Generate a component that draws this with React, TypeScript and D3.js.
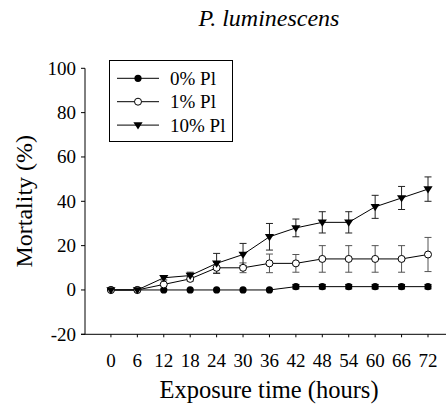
import React from "react";
import * as d3 from "d3";

const hours = [0, 6, 12, 18, 24, 30, 36, 42, 48, 54, 60, 66, 72];
const yTicks = [-20, 0, 20, 40, 60, 80, 100];

const pl0 = [0, 0, 0, 0, 0, 0, 0, 1.5, 1.5, 1.5, 1.5, 1.5, 1.5];
const pl0Err = [0, 0, 0, 0, 0, 0, 0, 1, 1, 1, 1, 1, 1];
const pl1 = [0, 0, 2.5, 5, 10, 10, 12, 12, 14, 14, 14, 14, 16];
const pl1Err = [0, 0, 0, 1, 2.4, 2.2, 4.2, 4, 6, 6, 6, 6, 7.7];
const pl10 = [0, 0, 5.5, 6.5, 12, 16, 24, 28, 30.5, 30.5, 37.5, 41.5, 45.5];
const pl10Err = [0, 0, 1, 1.5, 4.5, 5, 6, 4, 4.8, 4.8, 5.2, 5.2, 5.5];

const seriesNames = ["0% Pl", "1% Pl", "10% Pl"];

type Kind = "filled" | "open" | "triangle";

const series: { name: string; values: number[]; errs: number[]; kind: Kind; errColor: string }[] = [
  { name: seriesNames[0], values: pl0, errs: pl0Err, kind: "filled", errColor: "#000" },
  { name: seriesNames[1], values: pl1, errs: pl1Err, kind: "open", errColor: "#555" },
  { name: seriesNames[2], values: pl10, errs: pl10Err, kind: "triangle", errColor: "#222" },
];

const SERIF = '"Liberation Serif"';

function T(props: React.SVGProps<SVGTextElement>) {
  return <text {...props} style={{ fontFamily: SERIF }} />;
}

function Marker({ kind, x, y }: { kind: Kind; x: number; y: number }) {
  if (kind === "filled") return <circle cx={x} cy={y} r={3.6} fill="#000" />;
  if (kind === "open")
    return <circle cx={x} cy={y} r={3.5} fill="#fff" stroke="#000" strokeWidth={1} />;
  const s = 4.6;
  return (
    <path
      d={`M${x - s},${y - s * 0.6} L${x + s},${y - s * 0.6} L${x},${y + s * 0.95} Z`}
      fill="#000"
    />
  );
}

export default function App() {
  const width = 446;
  const height = 404;
  const axisLeft = 85;
  const x = d3.scaleLinear().domain([-6, 72]).range([84.5, 428]);
  const y = d3.scaleLinear().domain([-20, 100]).range([334.3, 68.3]);
  const line = d3
    .line<number>()
    .x((_, i) => x(hours[i]))
    .y((d) => y(d));

  const cap = 3.5;

  return (
    <svg width={width} height={height} style={{ position: "absolute", left: 0, top: 0 }}>
      <rect width={width} height={height} fill="#fff" />
      <T x={269} y={26} fontSize={24} fontStyle="italic" textAnchor="middle">
        P. luminescens
      </T>

      {/* y axis */}
      <line x1={axisLeft} x2={axisLeft} y1={y(100)} y2={y(-20)} stroke="#000" />
      {yTicks.map((t) => (
        <g key={t}>
          <line x1={axisLeft - 4} x2={axisLeft} y1={y(t)} y2={y(t)} stroke="#000" />
          <T x={axisLeft - 9} y={y(t) + 6.3} fontSize={19} textAnchor="end">
            {t}
          </T>
        </g>
      ))}

      {/* x axis */}
      <line x1={axisLeft - 4} x2={width} y1={y(-20)} y2={y(-20)} stroke="#000" />
      {hours.map((h) => (
        <g key={h}>
          <line x1={x(h)} x2={x(h)} y1={y(-20)} y2={y(-20) + 3} stroke="#000" />
          <T x={x(h)} y={366.5} fontSize={19} textAnchor="middle">
            {h}
          </T>
        </g>
      ))}

      <T x={269} y={398} fontSize={24.5} textAnchor="middle">
        Exposure time (hours)
      </T>
      <T transform={`translate(32,${y(40)}) rotate(-90)`} fontSize={24} textAnchor="middle">
        Mortality (%)
      </T>

      {/* error bars */}
      {series.map((s) =>
        s.values.map((v, i) =>
          s.errs[i] > 0 ? (
            <g key={`${s.name}-e-${i}`} stroke={s.errColor} strokeWidth={1}>
              <line x1={x(hours[i])} x2={x(hours[i])} y1={y(v - s.errs[i])} y2={y(v + s.errs[i])} />
              <line x1={x(hours[i]) - cap} x2={x(hours[i]) + cap} y1={y(v + s.errs[i])} y2={y(v + s.errs[i])} />
              <line x1={x(hours[i]) - cap} x2={x(hours[i]) + cap} y1={y(v - s.errs[i])} y2={y(v - s.errs[i])} />
            </g>
          ) : null
        )
      )}

      {/* lines */}
      {series.map((s) => (
        <path key={`${s.name}-l`} d={line(s.values) || ""} fill="none" stroke="#000" strokeWidth={1} />
      ))}

      {/* markers */}
      {series.map((s) =>
        s.values.map((v, i) => <Marker key={`${s.name}-m-${i}`} kind={s.kind} x={x(hours[i])} y={y(v)} />)
      )}

      {/* legend */}
      <rect x={109.5} y={60.5} width={123} height={81} fill="#fff" stroke="#000" />
      {series.map((s, i) => {
        const ly = 78.3 + i * 23.4;
        return (
          <g key={`${s.name}-lg`}>
            <line x1={117} x2={159} y1={ly} y2={ly} stroke="#000" />
            <Marker kind={s.kind} x={138} y={ly} />
            <T x={170} y={ly + 6.5} fontSize={19}>
              {s.name}
            </T>
          </g>
        );
      })}
    </svg>
  );
}
